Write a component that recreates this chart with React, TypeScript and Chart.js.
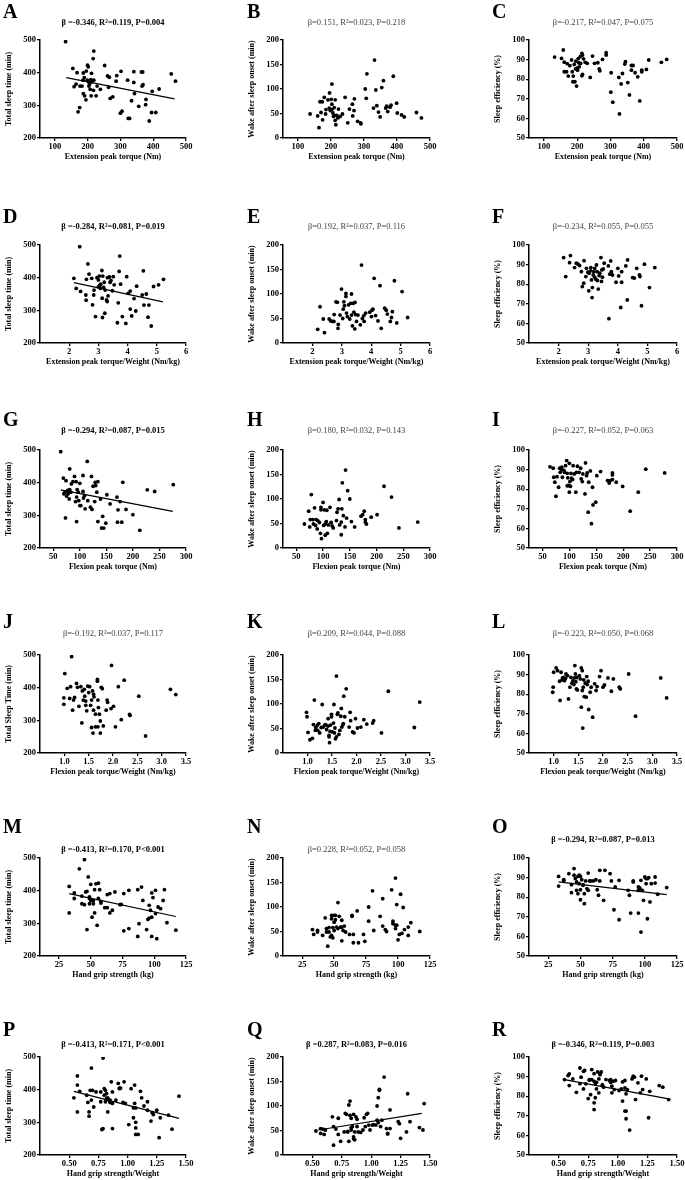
import React, { useEffect, useRef } from 'react';
import { Chart, registerables } from 'chart.js';
Chart.register(...registerables);

const FONT = "'Liberation Serif', 'Times New Roman', serif";

// ---- tick label arrays ----
const tstTicks = [200, 300, 400, 500];
const wasoTicks = [0, 50, 100, 150, 200];
const seTicks = [50, 60, 70, 80, 90, 100];
const extTicks = [100, 200, 300, 400, 500];
const extWTicks = [2, 3, 4, 5, 6];
const flxTicks = [50, 100, 150, 200, 250, 300];
const flxWTicks = [1.0, 1.5, 2.0, 2.5, 3.0, 3.5];
const gripTicks = [25, 50, 75, 100, 125];
const gripWTicks = [0.5, 0.75, 1.0, 1.25, 1.5];

// ---- text ----
const letters = ['A','B','C','D','E','F','G','H','I','J','K','L','M','N','O','P','Q','R'];
const stats = [
  'β =-0.346, R²=0.119, P=0.004', 'β=0.151, R²=0.023, P=0.218', 'β=-0.217, R²=0.047, P=0.075',
  'β =-0.284, R²=0.081, P=0.019', 'β=0.192, R²=0.037, P=0.116', 'β=-0.234, R²=0.055, P=0.055',
  'β =-0.294, R²=0.087, P=0.015', 'β=0.180, R²=0.032, P=0.143', 'β=-0.227, R²=0.052, P=0.063',
  'β=-0.192, R²=0.037, P=0.117', 'β=0.209, R²=0.044, P=0.088', 'β=-0.223, R²=0.050, P=0.068',
  'β =-0.413, R²=0.170, P<0.001', 'β=0.228, R²=0.052, P=0.058', 'β =-0.294, R²=0.087, P=0.013',
  'β =-0.413, R²=0.171, P<0.001', 'β =0.287, R²=0.083, P=0.016', 'β =-0.346, R²=0.119, P=0.003',
];
const significant = [true,false,false, true,false,false, true,false,false, false,false,false, true,false,true, true,true,true];
const xTitles = [
  'Extension peak torque (Nm)', 'Extension peak torque/Weight (Nm/kg)', 'Flexion peak torque (Nm)',
  'Flexion peak torque/Weight (Nm/kg)', 'Hand grip strength (kg)', 'Hand grip strength/Weight',
];
const yTitles = ['Total sleep time (min)', 'Wake after sleep onset (min)', 'Sleep efficiency (%)'];
const yTitleJ = 'Total Sleep Time (min)';

// ---- data: [x, y] ----
const ptsA = [[133,495],[219,466],[217,443],[252,422],[200,423],[202,418],[155,413],[168,400],[187,399],[196,405],[212,398],[302,404],[341,403],[364,402],[368,402],[455,396],[468,374],[261,390],[266,386],[289,391],[186,377],[199,377],[204,371],[210,379],[219,377],[287,374],[322,377],[341,370],[366,359],[369,363],[165,365],[159,357],[177,359],[183,359],[204,359],[208,349],[218,346],[229,359],[239,349],[264,355],[269,321],[277,326],[187,336],[191,329],[226,329],[211,329],[195,317],[176,293],[171,280],[334,314],[343,336],[378,318],[377,302],[356,297],[397,343],[418,350],[300,276],[305,282],[324,260],[328,260],[395,278],[408,278],[388,252],[213,372],[206,365],[190,385]];
const ptsB = [[137,49],[160,45],[164,21],[167,74],[174,74],[170,52],[175,37],[180,83],[185,58],[191,78],[196,92],[203,110],[201,79],[203,58],[206,51],[208,44],[213,78],[213,36],[215,27],[218,46],[221,41],[223,59],[228,44],[235,49],[243,83],[251,31],[256,59],[265,69],[266,45],[270,56],[271,80],[281,34],[291,29],[290,31],[304,100],[307,81],[309,131],[329,61],[332,159],[336,98],[339,66],[344,53],[349,43],[354,103],[359,117],[366,61],[369,65],[372,54],[379,63],[382,67],[389,126],[399,71],[401,51],[414,47],[422,43],[459,52],[474,41],[195,61],[203,69],[211,46],[184,49],[198,56],[210,62]];
const ptsC = [[132,91.3],[158,94.9],[153,90.6],[161,88.7],[170,87.9],[183,89.8],[178,86.9],[191,87.5],[196,89.2],[195,85.3],[204,88.4],[209,91.5],[214,93.2],[219,90.4],[216,92.3],[224,88.6],[230,88.1],[246,91.8],[252,88.1],[262,88.4],[266,85.3],[268,84.3],[276,90.1],[287,93.5],[287,92.3],[161,83.8],[168,83.8],[173,81.6],[185,83.8],[188,81.6],[187,78.7],[193,78.7],[198,76.5],[201,84.6],[201,85.8],[206,86.3],[214,81.7],[216,82.4],[239,80.9],[302,83.3],[301,73.4],[307,68.3],[325,80.9],[332,77.6],[336,82.9],[343,87.7],[345,88.9],[352,78.3],[357,72.0],[363,87.0],[368,87.0],[363,84.6],[374,83.3],[382,81.2],[388,68.9],[394,83.8],[394,84.6],[408,85.0],[415,89.8],[453,88.6],[469,90.1],[327,62.3],[210,88.0],[203,90.5]];
const ptsD = [[2.16,398],[2.24,367],[2.36,495],[2.39,358],[2.57,347],[2.59,395],[2.58,331],[2.64,442],[2.68,411],[2.77,398],[2.80,317],[2.85,362],[2.84,347],[2.90,281],[2.95,400],[3.00,393],[3.00,372],[3.03,405],[3.05,377],[3.07,367],[3.12,422],[3.13,337],[3.14,278],[3.15,405],[3.20,386],[3.22,291],[3.23,362],[3.28,332],[3.30,327],[3.31,400],[3.33,344],[3.38,402],[3.40,386],[3.43,391],[3.48,360],[3.51,403],[3.54,378],[3.68,323],[3.65,262],[3.71,419],[3.73,466],[3.76,380],[3.82,281],[3.94,260],[3.97,403],[4.02,352],[4.09,359],[4.09,304],[4.14,283],[4.22,336],[4.28,298],[4.31,374],[4.50,347],[4.54,421],[4.56,316],[4.64,350],[4.70,279],[4.73,316],[4.81,252],[4.89,373],[5.06,378],[5.23,395],[3.08,380],[3.18,370]];
const ptsE = [[2.18,28],[2.26,74],[2.37,49],[2.41,21],[2.57,49],[2.62,45],[2.68,44],[2.73,44],[2.74,58],[2.80,84],[2.85,83],[2.88,38],[2.87,30],[2.94,57],[2.99,110],[3.03,50],[3.05,69],[3.07,84],[3.09,76],[3.14,101],[3.14,95],[3.16,61],[3.19,54],[3.23,78],[3.27,49],[3.30,81],[3.33,100],[3.33,57],[3.36,35],[3.39,81],[3.41,63],[3.44,29],[3.45,83],[3.47,58],[3.50,44],[3.55,57],[3.63,37],[3.67,159],[3.70,50],[3.75,56],[3.76,44],[3.81,61],[3.95,63],[4.01,54],[4.03,67],[4.06,69],[4.10,132],[4.15,56],[4.23,45],[4.30,117],[4.34,30],[4.46,71],[4.51,67],[4.55,59],[4.65,44],[4.69,52],[4.72,64],[4.79,127],[4.87,41],[5.05,105],[5.24,52]];
const ptsF = [[2.17,93.6],[2.24,83.9],[2.37,91.0],[2.40,94.6],[2.54,88.5],[2.60,90.7],[2.66,90.2],[2.71,89.5],[2.77,86.4],[2.80,78.8],[2.85,80.5],[2.86,92.0],[2.92,83.9],[2.94,88.1],[2.99,86.1],[3.02,76.6],[3.03,85.6],[3.08,86.8],[3.09,88.5],[3.11,82.2],[3.13,73.2],[3.14,78.3],[3.17,84.7],[3.19,86.4],[3.22,88.1],[3.22,83.6],[3.26,82.5],[3.28,89.8],[3.30,86.4],[3.31,81.9],[3.34,77.5],[3.37,84.4],[3.39,85.6],[3.43,93.6],[3.45,81.4],[3.46,87.3],[3.48,83.6],[3.51,87.8],[3.54,90.7],[3.68,89.3],[3.70,62.4],[3.73,85.1],[3.76,91.9],[3.78,86.4],[3.82,84.7],[3.94,81.0],[4.00,88.1],[4.03,84.2],[4.10,68.1],[4.13,81.0],[4.13,86.4],[4.27,89.3],[4.33,92.4],[4.32,72.0],[4.50,83.4],[4.56,83.1],[4.64,88.1],[4.73,84.7],[4.75,83.9],[4.80,69.0],[4.90,90.2],[5.07,78.3],[5.25,88.5]];
const ptsG = [[64,495],[69,414],[74,406],[72,371],[70,366],[73,292],[75,359],[77,376],[78,366],[80,350],[81,442],[81,379],[83,371],[84,396],[87,403],[90,419],[92,342],[93,403],[94,281],[94,356],[95,379],[97,371],[98,345],[100,398],[100,330],[102,330],[106,422],[106,373],[107,353],[109,361],[110,320],[114,465],[115,345],[120,325],[122,419],[123,318],[125,389],[128,342],[129,401],[130,391],[132,371],[134,403],[134,281],[139,350],[141,261],[143,297],[145,261],[149,276],[151,363],[157,335],[170,356],[171,279],[172,317],[176,342],[179,279],[181,401],[187,318],[200,302],[213,254],[227,378],[241,373],[276,394]];
const ptsH = [[65,49],[73,75],[75,43],[78,109],[76,58],[81,58],[82,49],[84,82],[86,46],[87,58],[89,39],[90,56],[93,52],[95,30],[96,83],[96,78],[97,19],[100,93],[101,46],[102,78],[104,26],[104,49],[106,54],[107,77],[108,30],[110,47],[113,83],[115,52],[117,45],[119,41],[125,56],[126,73],[128,80],[130,99],[131,47],[134,27],[135,80],[134,53],[136,133],[138,66],[141,43],[142,159],[144,61],[146,117],[150,100],[153,54],[159,43],[171,65],[174,68],[177,75],[179,53],[181,49],[179,58],[190,63],[201,68],[214,126],[228,104],[242,41],[277,53]];
const ptsI = [[64,91.4],[70,90.7],[71,86.1],[73,83.6],[75,76.4],[77,86.4],[80,81.0],[82,90.7],[83,88.6],[85,90.0],[86,91.2],[87,86.1],[90,89.6],[91,88.6],[93,92.0],[95,94.6],[96,88.1],[96,81.7],[97,85.8],[98,81.9],[100,93.2],[100,78.5],[101,83.9],[102,81.5],[103,88.1],[104,85.6],[106,84.9],[107,92.0],[109,87.8],[112,78.5],[113,88.6],[115,91.7],[118,88.6],[121,90.7],[122,85.3],[124,83.9],[125,87.8],[129,77.6],[130,93.4],[132,86.9],[133,88.3],[135,68.3],[136,83.6],[139,89.3],[141,62.4],[143,81.0],[144,72.0],[149,73.4],[151,86.9],[158,89.0],[171,84.4],[174,83.1],[176,84.4],[180,84.9],[180,88.3],[180,87.3],[187,83.6],[199,81.4],[213,68.8],[228,78.5],[242,90.2],[277,88.3]];
const ptsJ = [[0.99,349],[0.99,369],[1.01,443],[1.06,398],[1.11,367],[1.13,403],[1.15,495],[1.17,331],[1.19,362],[1.21,370],[1.25,413],[1.27,401],[1.30,343],[1.34,403],[1.36,292],[1.37,390],[1.39,362],[1.41,395],[1.42,374],[1.44,359],[1.44,346],[1.46,329],[1.48,405],[1.50,385],[1.52,403],[1.54,346],[1.56,362],[1.56,278],[1.58,390],[1.59,261],[1.60,380],[1.60,331],[1.61,372],[1.64,319],[1.64,280],[1.68,425],[1.68,420],[1.69,280],[1.69,362],[1.70,339],[1.72,319],[1.74,298],[1.74,261],[1.76,401],[1.78,397],[1.80,283],[1.86,331],[1.88,362],[1.89,355],[1.96,336],[1.97,468],[2.01,343],[2.05,280],[2.11,403],[2.17,302],[2.23,423],[2.34,318],[2.35,315],[2.53,374],[2.67,252],[3.18,395],[3.29,379]];
const ptsK = [[0.98,83],[0.99,74],[1.01,42],[1.05,27],[1.10,30],[1.12,58],[1.14,108],[1.16,46],[1.17,52],[1.20,57],[1.21,46],[1.23,60],[1.25,41],[1.28,52],[1.30,99],[1.32,53],[1.35,57],[1.37,58],[1.39,48],[1.42,70],[1.42,55],[1.44,36],[1.44,33],[1.45,21],[1.46,44],[1.47,57],[1.49,79],[1.49,74],[1.51,43],[1.53,61],[1.54,99],[1.55,41],[1.56,51],[1.57,29],[1.59,157],[1.59,33],[1.61,79],[1.62,82],[1.64,38],[1.66,46],[1.68,75],[1.69,91],[1.70,53],[1.72,57],[1.73,60],[1.74,116],[1.76,74],[1.79,131],[1.85,53],[1.87,83],[1.88,66],[1.92,43],[1.95,41],[1.98,70],[2.02,51],[2.09,53],[2.15,68],[2.21,59],[2.33,61],[2.35,66],[2.51,41],[2.65,126],[3.18,52],[3.29,104]];
const ptsL = [[0.98,81.0],[0.99,83.6],[1.00,91.2],[1.05,93.4],[1.08,92.0],[1.12,86.6],[1.13,76.8],[1.15,91.2],[1.17,87.3],[1.18,88.3],[1.20,88.6],[1.22,86.9],[1.24,88.0],[1.25,90.3],[1.28,89.5],[1.30,77.6],[1.33,83.6],[1.35,88.6],[1.37,85.6],[1.39,86.9],[1.41,84.9],[1.42,88.3],[1.43,94.6],[1.44,90.3],[1.45,86.4],[1.46,82.7],[1.47,88.5],[1.48,82.2],[1.52,89.5],[1.54,87.8],[1.56,73.4],[1.56,93.4],[1.58,81.9],[1.58,92.0],[1.59,62.7],[1.60,83.6],[1.61,87.3],[1.62,78.8],[1.64,85.6],[1.66,78.5],[1.67,89.0],[1.68,84.9],[1.70,86.6],[1.71,72.2],[1.74,81.0],[1.76,83.6],[1.79,68.3],[1.83,85.3],[1.86,81.9],[1.88,83.9],[1.93,89.0],[1.96,92.0],[2.00,83.6],[2.03,84.7],[2.10,88.3],[2.17,81.5],[2.21,87.8],[2.33,83.6],[2.35,82.7],[2.52,90.3],[2.66,68.8],[3.17,88.3],[3.29,78.1]];
const ptsM = [[33,413],[33,332],[37,376],[37,393],[41,467],[43,383],[43,360],[45,495],[45,357],[46,396],[47,281],[47,398],[48,442],[49,381],[49,360],[49,376],[50,370],[50,419],[51,319],[52,370],[52,360],[53,332],[53,403],[54,421],[55,294],[56,423],[56,376],[57,403],[58,362],[58,367],[61,348],[63,348],[63,388],[65,391],[65,332],[67,340],[69,396],[73,357],[74,358],[76,277],[76,391],[80,284],[80,401],[87,403],[87,260],[88,299],[90,411],[91,370],[94,281],[95,312],[96,316],[96,355],[97,340],[98,319],[98,260],[98,393],[99,379],[101,401],[101,330],[102,253],[103,350],[105,345],[107,370],[108,403],[110,302],[117,279]];
const ptsN = [[33,54],[34,44],[37,49],[37,52],[41,42],[43,78],[44,56],[44,49],[45,20],[46,58],[46,49],[47,39],[48,76],[48,42],[48,83],[49,58],[49,37],[50,83],[50,69],[50,52],[51,74],[51,83],[52,59],[53,109],[53,56],[54,81],[55,59],[56,73],[56,31],[56,59],[57,52],[58,61],[59,49],[62,44],[64,81],[64,83],[65,27],[65,44],[68,92],[69,27],[73,44],[74,30],[77,100],[77,71],[80,133],[81,52],[86,81],[88,117],[88,61],[90,54],[91,50],[95,135],[96,66],[96,71],[98,63],[98,159],[98,56],[99,105],[99,63],[100,33],[101,44],[102,126],[103,46],[104,99],[105,54],[108,42],[108,59],[110,68],[117,50]];
const ptsO = [[33,90.6],[33,85.7],[37,88.6],[37,88.9],[41,92.0],[43,82.3],[43,86.4],[45,94.6],[45,91.2],[46,89.5],[47,83.5],[47,87.8],[48,90.6],[48,81.8],[49,91.2],[49,86.9],[50,90.6],[50,83.8],[50,78.7],[51,88.9],[52,86.1],[52,86.4],[53,76.7],[53,81.8],[54,88.3],[55,84.4],[56,83.5],[56,92.3],[57,88.3],[58,88.3],[60,88.3],[62,88.9],[63,83.8],[64,81.0],[65,93.7],[65,88.3],[68,78.4],[69,93.7],[73,92.0],[74,88.3],[76,73.6],[77,85.2],[80,68.5],[80,88.6],[87,83.5],[88,81.0],[89,71.9],[91,88.3],[91,87.8],[95,85.2],[95,71.9],[95,83.5],[96,84.4],[96,84.7],[97,88.6],[97,62.2],[98,83.5],[99,78.4],[100,90.3],[101,89.5],[101,86.9],[102,69.0],[102,89.5],[103,90.0],[104,77.6],[105,86.9],[108,87.2],[108,90.3],[110,81.5],[117,84.9]];
const ptsP = [[0.54,375],[0.57,414],[0.57,442],[0.57,332],[0.59,395],[0.65,383],[0.66,361],[0.67,332],[0.67,319],[0.68,398],[0.69,368],[0.69,466],[0.70,398],[0.71,347],[0.73,393],[0.77,393],[0.77,363],[0.78,278],[0.79,497],[0.79,281],[0.80,403],[0.80,383],[0.81,363],[0.81,398],[0.82,373],[0.82,388],[0.83,375],[0.83,332],[0.84,368],[0.85,368],[0.85,361],[0.86,424],[0.87,358],[0.87,393],[0.87,281],[0.90,368],[0.92,419],[0.93,403],[0.93,405],[0.94,405],[0.96,361],[0.97,424],[0.98,358],[1.01,293],[1.03,403],[1.05,344],[1.05,314],[1.06,414],[1.06,358],[1.07,300],[1.07,283],[1.07,263],[1.07,344],[1.09,263],[1.11,395],[1.12,375],[1.14,350],[1.17,363],[1.17,337],[1.20,304],[1.21,330],[1.22,324],[1.25,337],[1.27,253],[1.28,314],[1.35,322],[1.38,279],[1.44,380]];
const ptsQ = [[0.53,49],[0.57,44],[0.57,54],[0.59,53],[0.60,42],[0.61,51],[0.67,78],[0.68,58],[0.68,20],[0.70,53],[0.72,75],[0.72,42],[0.74,28],[0.77,47],[0.78,85],[0.79,83],[0.80,47],[0.80,48],[0.81,28],[0.81,102],[0.82,81],[0.82,110],[0.83,56],[0.83,75],[0.83,51],[0.84,58],[0.85,83],[0.85,37],[0.85,33],[0.86,47],[0.86,31],[0.87,78],[0.88,58],[0.88,73],[0.89,47],[0.91,46],[0.93,51],[0.94,76],[0.95,58],[0.96,83],[0.97,85],[0.98,61],[0.99,51],[1.01,61],[1.02,62],[1.04,61],[1.05,71],[1.05,100],[1.06,66],[1.06,117],[1.07,134],[1.07,132],[1.08,58],[1.09,71],[1.11,159],[1.13,54],[1.14,43],[1.14,44],[1.16,92],[1.16,54],[1.23,68],[1.24,64],[1.25,34],[1.30,47],[1.31,125],[1.33,68],[1.41,56],[1.44,51],[1.45,105]];
const ptsR = [[0.55,88.5],[0.58,90.5],[0.59,91.4],[0.59,85.4],[0.62,88.8],[0.65,82.0],[0.68,94.4],[0.68,86.4],[0.69,89.7],[0.71,92.7],[0.71,83.7],[0.72,93.1],[0.73,86.3],[0.75,78.8],[0.76,88.5],[0.76,88.1],[0.77,80.8],[0.78,93.6],[0.78,88.5],[0.80,91.5],[0.80,73.2],[0.80,76.6],[0.80,87.6],[0.81,86.3],[0.81,79.2],[0.82,87.1],[0.82,83.7],[0.83,92.4],[0.84,88.8],[0.84,81.7],[0.85,91.5],[0.85,91.0],[0.86,92.4],[0.87,85.4],[0.87,85.9],[0.88,84.6],[0.90,88.5],[0.93,88.1],[0.94,87.1],[0.94,88.5],[0.95,85.1],[0.95,81.7],[0.96,87.6],[0.97,83.4],[0.98,88.0],[1.01,82.9],[1.03,83.7],[1.04,87.3],[1.04,77.5],[1.06,84.2],[1.06,72.4],[1.06,88.0],[1.07,81.2],[1.07,68.5],[1.07,72.4],[1.08,83.4],[1.10,62.7],[1.12,88.8],[1.13,90.2],[1.14,89.7],[1.15,78.3],[1.17,86.8],[1.19,81.7],[1.20,90.2],[1.21,83.4],[1.24,88.8],[1.26,69.0],[1.27,82.5],[1.35,85.4],[1.38,84.6],[1.43,78.3]];

// regression line endpoints
const fitA = [[135,385],[465,320]];
const fitD = [[2.16,385],[5.21,326]];
const fitG = [[64,378],[275,312]];
const fitM = [[33,391],[117,321]];
const fitO = [[33,87.8],[117,81.3]];
const fitP = [[0.54,395],[1.44,312]];
const fitQ = [[0.55,51],[1.43,85]];
const fitR = [[0.55,88.5],[1.43,78.6]];

const allPts = [ptsA,ptsB,ptsC,ptsD,ptsE,ptsF,ptsG,ptsH,ptsI,ptsJ,ptsK,ptsL,ptsM,ptsN,ptsO,ptsP,ptsQ,ptsR];
const allFits = [fitA,null,null,fitD,null,null,fitG,null,null,null,null,null,fitM,null,fitO,fitP,fitQ,fitR];

const rowX = [
  { ticks: extTicks, min: 55, max: 500, dec: 0 },
  { ticks: extWTicks, min: 1, max: 6, dec: 0 },
  { ticks: flxTicks, min: 25, max: 300, dec: 0 },
  { ticks: flxWTicks, min: 0.5, max: 3.5, dec: 1 },
  { ticks: gripTicks, min: 10, max: 125, dec: 0 },
  { ticks: gripWTicks, min: 0.25, max: 1.5, dec: 2 },
];
const colY = [
  { ticks: tstTicks, min: 200, max: 500 },
  { ticks: wasoTicks, min: 0, max: 200 },
  { ticks: seTicks, min: 50, max: 100 },
];

// ---- layout (positions only) ----
const YW = 36, XH = 24, PR = 12, PH = 98;
const colPlotLeft = [40, 283, 529];
const colPlotW = [146, 147, 148];
const rowTop = [40, 245, 450, 655, 858, 1057];
const titleYs = [[22.7,22.7,22.7],[227,227,227],[431,431,431],[634,634,634],[850,850,840],[1045,1045,1045]];
const letterTop = [5, 210, 413, 615, 820, 1023];
const letterX = [3, 247, 492];

function Panel({ idx }: { idx: number }) {
  const ref = useRef<HTMLCanvasElement>(null);
  const row = Math.floor(idx / 3), col = idx % 3;
  const cLeft = Math.min(letterX[col], colPlotLeft[col] - YW) - 1;
  const cTop = letterTop[row] - 5;
  const padL = colPlotLeft[col] - YW - cLeft;
  const padT = rowTop[row] - cTop;
  const w = colPlotLeft[col] + colPlotW[col] + PR - cLeft;
  const h = padT + PH + XH;
  useEffect(() => {
    const xs = rowX[row], ys = colY[col];
    const fit = allFits[idx];
    const datasets: any[] = [{
      type: 'scatter',
      data: allPts[idx].map(([x, y]) => ({ x, y })),
      backgroundColor: '#000', borderColor: '#000', borderWidth: 0, pointRadius: 1.9,
    }];
    if (fit) datasets.push({
      type: 'line', data: fit.map(([x, y]) => ({ x, y })),
      borderColor: '#000', borderWidth: 1.2, pointRadius: 0, fill: false,
    });
    const tickFont = { family: FONT, size: 8.5, weight: 'bold' as const };
    const titleFont = { family: FONT, size: 8, weight: 'bold' as const };
    const grid = { display: true, drawOnChartArea: false, drawTicks: true, tickLength: 3, color: '#000', lineWidth: 1.3 };
    const border = { display: true, color: '#000', width: 1.5 };
    const headings = {
      id: 'headings',
      afterDraw(chart: any) {
        const ctx = chart.ctx;
        ctx.save();
        ctx.fillStyle = '#000';
        ctx.font = `bold 20px ${FONT}`;
        ctx.textAlign = 'left';
        ctx.textBaseline = 'alphabetic';
        ctx.fillText(letters[idx], letterX[col] - cLeft, letterTop[row] + 13.2 - cTop);
        const a = chart.chartArea;
        ctx.font = `${significant[idx] ? 'bold ' : ''}8.5px ${FONT}`;
        ctx.fillStyle = significant[idx] ? '#000' : '#444';
        ctx.textAlign = 'center';
        ctx.textBaseline = 'middle';
        ctx.fillText(stats[idx], (a.left + a.right) / 2, titleYs[row][col] - cTop);
        ctx.restore();
      },
    };
    const chart = new Chart(ref.current!, {
      type: 'scatter',
      data: { datasets },
      plugins: [headings],
      options: {
        animation: false, responsive: false, events: [],
        layout: { padding: { top: padT, right: PR, bottom: 0, left: padL } },
        plugins: { legend: { display: false }, tooltip: { enabled: false }, title: { display: false } },
        scales: {
          x: {
            type: 'linear', min: xs.min, max: xs.max,
            afterBuildTicks: (s: any) => { s.ticks = xs.ticks.map(v => ({ value: v })); },
            afterFit: (s: any) => { s.height = XH; },
            grid, border,
            ticks: { color: '#000', font: tickFont, padding: 1, maxRotation: 0, autoSkip: false,
              callback: (v: any) => Number(v).toFixed(xs.dec) },
            title: { display: true, text: xTitles[row], color: '#000', font: titleFont, padding: 0 },
          },
          y: {
            type: 'linear', min: ys.min, max: ys.max,
            afterBuildTicks: (s: any) => { s.ticks = ys.ticks.map(v => ({ value: v })); },
            afterFit: (s: any) => { s.width = YW; },
            grid, border,
            ticks: { color: '#000', font: tickFont, padding: 1, autoSkip: false, callback: (v: any) => String(v) },
            title: { display: true, text: idx === 9 ? yTitleJ : yTitles[col], color: '#000', font: titleFont, padding: 0 },
          },
        },
      } as any,
    });
    return () => chart.destroy();
  }, []);
  return (
    <canvas ref={ref} width={w} height={h}
      style={{ position: 'absolute', left: cLeft, top: cTop, width: w, height: h }} />
  );
}

export default function App() {
  return (
    <div style={{ position: 'absolute', left: 0, top: 0, width: 685, height: 1180, background: '#fff', overflow: 'hidden' }}>
      {letters.map((_, i) => <Panel key={i} idx={i} />)}
    </div>
  );
}
